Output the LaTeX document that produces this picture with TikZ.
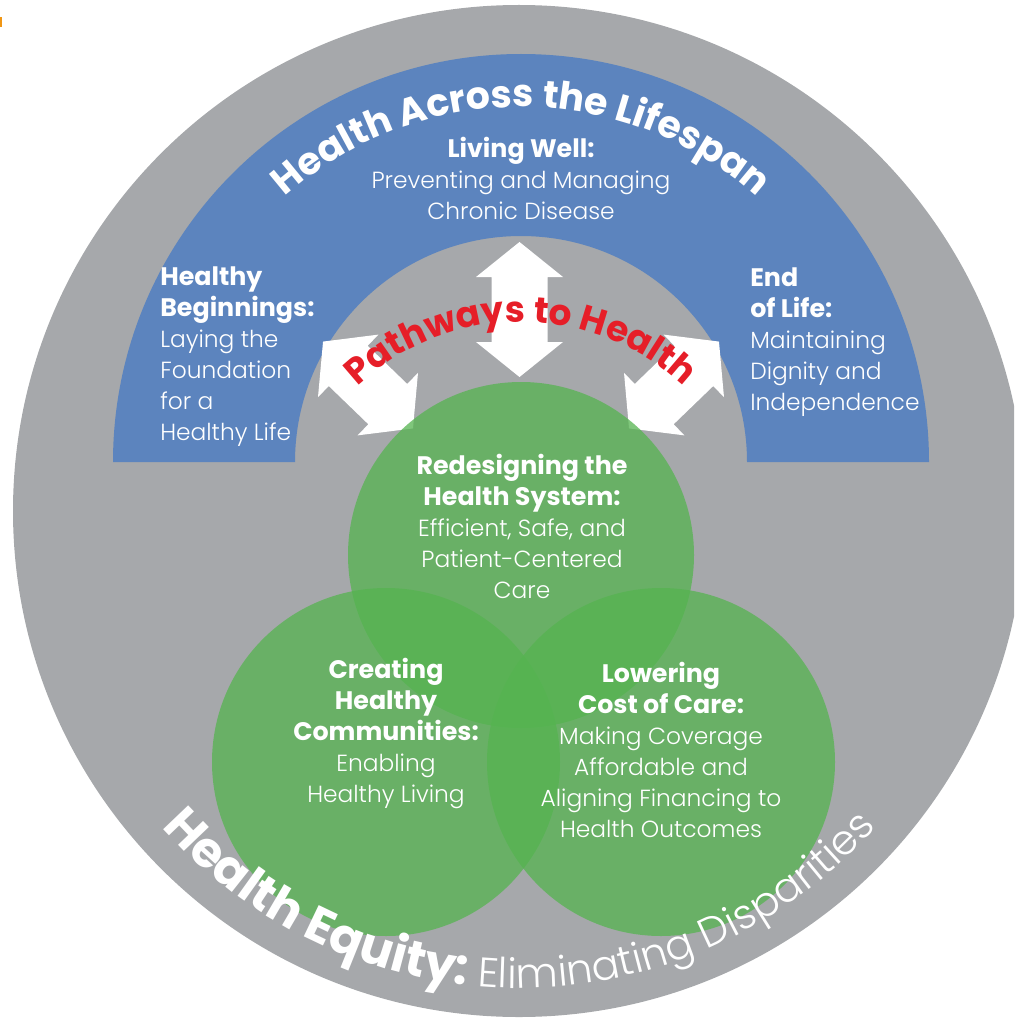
\documentclass[tikz,border=0pt]{standalone}
\usepackage{fontspec}
\setmainfont{Poppins}
\newfontfamily\lf{Poppins Light}
\newfontfamily\hf{Poppins Bold}
\newcommand\headline{\hf\fontsize{19}{23.25}\selectfont}
\usetikzlibrary{decorations.text}
\definecolor{ringgray}{RGB}{166,168,171}
\definecolor{bandblue}{RGB}{92,132,190}
\definecolor{leafgreen}{RGB}{85,180,80}
\definecolor{pathred}{RGB}{230,30,40}
\definecolor{markorange}{RGB}{240,150,20}
\begin{document}
\begin{tikzpicture}[x=0.75pt,y=0.75pt,
  body/.style={text=white, inner sep=0pt, font=\lf\fontsize{17.5}{23.25}\selectfont},
  venn/.style={fill=leafgreen, fill opacity=0.75},
  blockarrow/.style={fill=white}]
\useasboundingbox (0,0) rectangle (1014,-1020);
\begin{scope}
  \clip (0,0) rectangle (1014,-1020);
  \fill[ringgray] (519,-511) circle[radius=506];
\end{scope}
\fill[markorange] (0,-17) rectangle (2,-27);
% blue half ring
\fill[bandblue] (113,-462) arc[start angle=180,end angle=0,radius=408]
  -- (747,-462) arc[start angle=0,end angle=180,radius=226] -- cycle;
% arrows
\begin{scope}[shift={(519.5,-309.5)}, rotate=90]
  \fill[blockarrow] (-67.5,0) -- (-32.5,43.5) -- (-32.5,28) -- (32.5,28) -- (32.5,43.5) -- (67.5,0)
    -- (32.5,-43.5) -- (32.5,-28) -- (-32.5,-28) -- (-32.5,-43.5) -- cycle;
\end{scope}
\begin{scope}[shift={(368,-385)}, rotate=-44]
  \fill[blockarrow] (-62.5,0) -- (-27.5,43.5) -- (-27.5,28) -- (27.5,28) -- (27.5,43.5) -- (62.5,0)
    -- (27.5,-43.5) -- (27.5,-28) -- (-27.5,-28) -- (-27.5,-43.5) -- cycle;
\end{scope}
\begin{scope}[shift={(674,-385)}, rotate=44]
  \fill[blockarrow] (-62.5,0) -- (-27.5,43.5) -- (-27.5,28) -- (27.5,28) -- (27.5,43.5) -- (62.5,0)
    -- (27.5,-43.5) -- (27.5,-28) -- (-27.5,-28) -- (-27.5,-43.5) -- cycle;
\end{scope}
% green circles
\fill[venn] (521,-555) circle[radius=173];
\fill[venn] (386,-762) circle[radius=174];
\fill[venn] (661,-762) circle[radius=174];
% curved titles
\path[decorate, decoration={text along path, text color=white, text align=center,
  text={|\hf\fontsize{28.5}{28.5}\selectfont|Health Across the Lifespan}}]
  ([shift={(140:355)}]521,-462) arc[start angle=140, end angle=40, radius=355];
\path[decorate, decoration={text along path, text color=pathred, text align=center,
  text={|\hf\fontsize{27}{27}\selectfont|Pathways to Health}}]
  ([shift={(150:238)}]521,-560) arc[start angle=150, end angle=30, radius=238];
\path[decorate, decoration={text along path, text color=white, text align=center,
  text={|\hf\fontsize{37}{37}\selectfont|Health Equity: |\lf\fontsize{31}{31}\selectfont|Eliminating Disparities}}]
  ([shift={(196:477)}]519,-511) arc[start angle=196, end angle=344, radius=477];
% texts
\node[body, align=center] (livingwell) at (521,-178) {{\headline Living Well:}\\Preventing and Managing\\Chronic Disease};
\node[body, align=left, anchor=west] (beginnings) at (160,-357) {{\headline Healthy}\\{\headline Beginnings:}\\Laying the\\Foundation\\for a\\Healthy Life};
\node[body, align=left, anchor=west] (endoflife) at (750,-342.5) {{\headline End}\\{\headline of Life:}\\Maintaining\\Dignity and\\Independence};
\node[body, align=center] (system) at (522,-526) {{\headline Redesigning the}\\{\headline Health System:}\\Efficient, Safe, and\\Patient-Centered\\Care};
\node[body, align=center] (communities) at (386,-733.5) {{\headline Creating}\\{\headline Healthy}\\{\headline Communities:}\\Enabling\\Healthy Living};
\node[body, align=center] (cost) at (661,-749.5) {{\headline Lowering}\\{\headline Cost of Care:}\\Making Coverage\\Affordable and\\Aligning Financing to\\Health Outcomes};
\end{tikzpicture}
\end{document}
